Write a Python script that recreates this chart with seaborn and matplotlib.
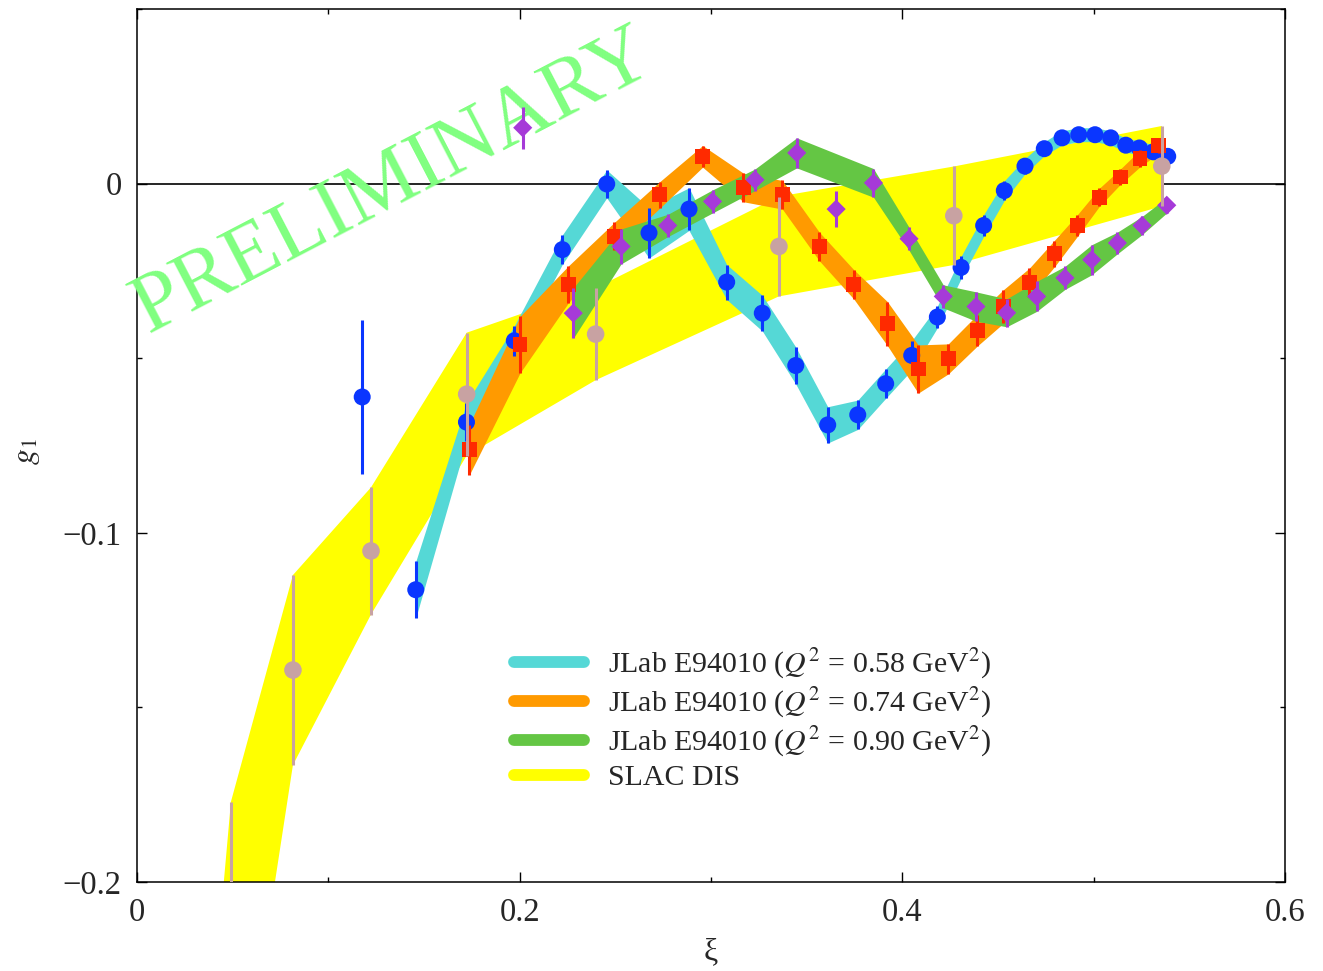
import numpy as np
import pandas as pd
import matplotlib
matplotlib.use("Agg")
import matplotlib.pyplot as plt
import seaborn as sns
from matplotlib.lines import Line2D
from matplotlib.ticker import MultipleLocator

# ---------------- data ----------------
# JLab E94010, Q^2 = 0.58 GeV^2 (first point not part of the band)
x058 = [0.1177, 0.1457, 0.1722, 0.1972, 0.2223, 0.2455, 0.2676, 0.2885, 0.3082, 0.3268,
        0.3443, 0.3610, 0.3767, 0.3913, 0.4049, 0.4183, 0.4307, 0.4425, 0.4533, 0.4641,
        0.4742, 0.4835, 0.4922, 0.5007, 0.5089, 0.5168, 0.5239, 0.5312, 0.5387]
y058 = [-0.0611, -0.1163, -0.0683, -0.0450, -0.0189, -0.0001, -0.0141, -0.0073, -0.0282, -0.0371,
        -0.0521, -0.0691, -0.0662, -0.0573, -0.0492, -0.0382, -0.0240, -0.0120, -0.0020, 0.0050,
        0.0100, 0.0131, 0.0140, 0.0140, 0.0131, 0.0110, 0.0102, 0.0091, 0.0078]
e058 = [0.0221, 0.0081, 0.0055, 0.0043, 0.0042, 0.0040, 0.0072, 0.0061, 0.0050, 0.0051,
        0.0053, 0.0052, 0.0042, 0.0042, 0.0042, 0.0031, 0.0032, 0.0031, 0.0028, 0.0022,
        0.0020, 0.0020, 0.0020, 0.0020, 0.0020, 0.0020, 0.0020, 0.0020, 0.0020]
band058 = [False] + [True] * 28

# JLab E94010, Q^2 = 0.74 GeV^2
x074 = [0.1737, 0.2002, 0.2254, 0.2495, 0.2733, 0.2956, 0.3169, 0.3373, 0.3566, 0.3747,
        0.3922, 0.4083, 0.4240, 0.4392, 0.4528, 0.4664, 0.4794, 0.4915, 0.5030, 0.5138,
        0.5242, 0.5341]
y074 = [-0.0762, -0.0461, -0.0289, -0.0151, -0.0032, 0.0078, -0.0011, -0.0032, -0.0180, -0.0289,
        -0.0401, -0.0531, -0.0502, -0.0420, -0.0352, -0.0283, -0.0201, -0.0120, -0.0039, 0.0019,
        0.0072, 0.0109]
e074 = [0.0072, 0.0081, 0.0053, 0.0040, 0.0038, 0.0031, 0.0041, 0.0041, 0.0041, 0.0042,
        0.0063, 0.0069, 0.0043, 0.0045, 0.0048, 0.0041, 0.0038, 0.0031, 0.0026, 0.0022,
        0.0024, 0.0022]
band074 = [True] * 22

# JLab E94010, Q^2 = 0.90 GeV^2 (two points not part of the band)
x090 = [0.2016, 0.2280, 0.2530, 0.2774, 0.3008, 0.3230, 0.3448, 0.3654, 0.3849, 0.4035,
        0.4214, 0.4385, 0.4545, 0.4702, 0.4850, 0.4990, 0.5124, 0.5253, 0.5382]
y090 = [0.0160, -0.0371, -0.0180, -0.0120, -0.0051, 0.0011, 0.0088, -0.0073, 0.0002, -0.0158,
        -0.0323, -0.0352, -0.0370, -0.0323, -0.0270, -0.0218, -0.0170, -0.0120, -0.0062]
e090 = [0.0060, 0.0072, 0.0050, 0.0032, 0.0033, 0.0031, 0.0043, 0.0052, 0.0041, 0.0033,
        0.0033, 0.0042, 0.0040, 0.0043, 0.0033, 0.0043, 0.0031, 0.0026, 0.0022]
band090 = [False] + [True] * 6 + [False] + [True] * 11

# SLAC DIS
xslac = [0.0400, 0.0491, 0.0815, 0.1223, 0.1723, 0.2397, 0.3355, 0.4269, 0.5356]
yslac = [-0.3000, -0.2295, -0.1393, -0.1052, -0.0603, -0.0431, -0.0180, -0.0092, 0.0050]
eslac = [0.0670, 0.0525, 0.0272, 0.0182, 0.0176, 0.0132, 0.0143, 0.0141, 0.0115]

labels = [r"JLab E94010 ($Q^2$ = 0.58 GeV$^2$)",
          r"JLab E94010 ($Q^2$ = 0.74 GeV$^2$)",
          r"JLab E94010 ($Q^2$ = 0.90 GeV$^2$)",
          "SLAC DIS"]

# ---------------- style ----------------
sns.set_theme(style="ticks")
plt.rcParams["font.family"] = ["Liberation Serif", "DejaVu Serif"]
plt.rcParams["mathtext.fontset"] = "stix"
plt.rcParams["axes.unicode_minus"] = True

band_cols = ["#55d8d6", "#ff9a00", "#64c644", "#ffff00"]
mark_cols = ["#0a36ff", "#ff2a00", "#a63ad8", "#c8a2a2"]

fig = plt.figure(figsize=(13.23, 9.71), dpi=100)
ax = fig.add_axes([137 / 1323, 89 / 971, (1285 - 137) / 1323, (882 - 9) / 971])

def df_of(x, y, e, b):
    d = pd.DataFrame({"x": x, "y": y, "e": e, "band": b})
    d["lo"] = d["y"] - d["e"]
    d["hi"] = d["y"] + d["e"]
    return d

d058 = df_of(x058, y058, e058, band058)
d074 = df_of(x074, y074, e074, band074)
d090 = df_of(x090, y090, e090, band090)
dsl = df_of(xslac, yslac, eslac, [True] * len(xslac))

ax.axhline(0, color="black", lw=1.2, zorder=1)

# bands
ax.fill_between(dsl["x"], dsl["lo"], dsl["hi"], color=band_cols[3], lw=0, zorder=2)
for d, c, z in [(d058, band_cols[0], 3), (d074, band_cols[1], 4), (d090, band_cols[2], 5)]:
    b = d[d["band"]]
    ax.fill_between(b["x"], b["lo"], b["hi"], color=c, lw=0, zorder=z)

ax.text(0.1345, 0.0, "PRELIMINARY", transform=ax.transData, rotation=27.5,
        rotation_mode="anchor", ha="center", va="center", fontsize=61,
        color="#80ff80", zorder=6, family=["Liberation Serif"])

# error bars and markers
specs = [(d058, mark_cols[0], "o", 150), (d074, mark_cols[1], "s", 115),
         (d090, mark_cols[2], "D", 95), (dsl, mark_cols[3], "o", 160)]
for i, (d, c, m, s) in enumerate(specs):
    ax.errorbar(d["x"], d["y"], yerr=d["e"], fmt="none", ecolor=c, elinewidth=2.2,
                capsize=0, zorder=7 + 2 * i)
    sns.scatterplot(data=d, x="x", y="y", ax=ax, marker=m, s=s, color=c,
                    edgecolor="none", linewidth=0, zorder=8 + 2 * i, legend=False)

ax.set_xlim(0, 0.6)
ax.set_ylim(-0.2, 0.05)
ax.xaxis.set_minor_locator(MultipleLocator(0.1))
ax.yaxis.set_minor_locator(MultipleLocator(0.05))
ax.set_xticks([0, 0.2, 0.4, 0.6])
ax.set_xticklabels(["0", "0.2", "0.4", "0.6"])
ax.set_yticks([-0.2, -0.1, 0])
ax.set_yticklabels(["\u22120.2", "\u22120.1", "0"])
ax.tick_params(which="both", direction="in", top=True, right=True, labelsize=23.5,
               width=1.0, color="black")
ax.tick_params(which="major", length=7, pad=11)
ax.tick_params(which="minor", length=3.6)
for sp in ax.spines.values():
    sp.set_linewidth(1.1)
    sp.set_color("black")

ax.set_xlabel("\u03be", fontsize=23)
ax.xaxis.set_label_coords(0.5, -0.063)
ax.set_ylabel(r"$g_1$", fontsize=23)
ax.yaxis.set_label_coords(-0.083, 0.4925)

handles = [Line2D([0], [0], color=c, lw=8.5, solid_capstyle="round") for c in band_cols]
leg = ax.legend(handles, labels, loc="upper left", bbox_to_anchor=(0.318, 0.283),
                frameon=False, fontsize=21.5, handlelength=2.35, handletextpad=0.8,
                labelspacing=0.17, borderaxespad=0)

fig.savefig("out.png", dpi=100)
